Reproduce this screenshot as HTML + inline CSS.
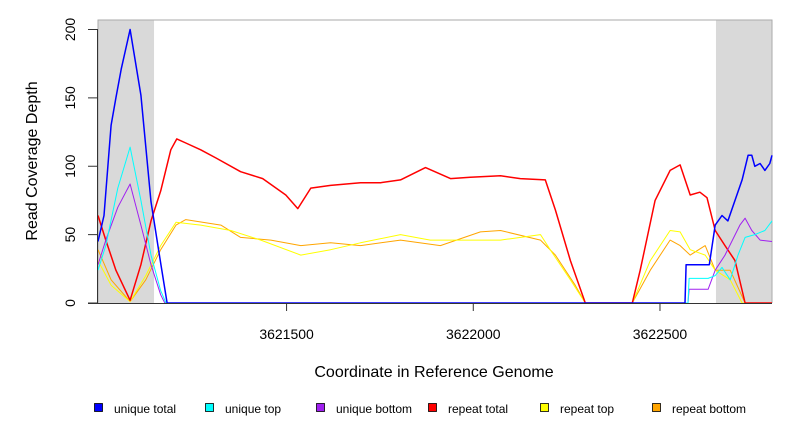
<!DOCTYPE html>
<html><head><meta charset="utf-8"><style>
body{margin:0;background:#fff;}
svg{display:block;font-family:"Liberation Sans",sans-serif;}
</style></head><body>
<svg id="chart" width="792" height="432" xmlns="http://www.w3.org/2000/svg"></svg>
<script>
const xTicks=[3621500,3622000,3622500];
const yTicks=[0,50,100,150,200];
const shadedRegions=[[3620995,3621145],[3622650,3622800]];
const seriesNames=["unique total","unique top","unique bottom","repeat total","repeat top","repeat bottom"];
const seriesColors=["#0000ff","#00ffff","#a020f0","#ff0000","#ffff00","#ffa500"];
const uniqueTotalX=[3620995,3621011,3621030,3621043,3621057,3621081,3621110,3621137,3621163,3621180,3622567,3622570,3622632,3622648,3622666,3622682,3622701,3622720,3622736,3622746,3622754,3622768,3622781,3622794,3622800];
const uniqueTotalY=[45,64,130,150,171,200,152,74,29,0,0,28,28,57,64,60,75,90,108,108,100,102,97,102,108];
const uniqueTopX=[3620995,3621016,3621048,3621081,3621110,3621137,3621163,3621177,3622575,3622578,3622629,3622648,3622666,3622688,3622709,3622728,3622754,3622781,3622800];
const uniqueTopY=[24,42,84,114,75,35,9,0,0,18,18,20,26,17,35,48,50,53,60];
const uniqueBottomX=[3620995,3621016,3621048,3621081,3621110,3621137,3621163,3621174,3622575,3622578,3622629,3622648,3622674,3622714,3622728,3622746,3622768,3622800];
const uniqueBottomY=[28,46,70,87,57,28,6,0,0,10,10,24,35,57,62,53,46,45];
const repeatTotalX=[3620995,3621016,3621043,3621081,3621110,3621137,3621163,3621190,3621206,3621230,3621270,3621311,3621377,3621436,3621498,3621530,3621565,3621618,3621698,3621752,3621805,3621872,3621939,3621992,3622073,3622126,3622193,3622220,3622260,3622300,3622426,3622447,3622487,3622527,3622554,3622581,3622607,3622626,3622648,3622674,3622701,3622728,3622800];
const repeatTotalY=[64,46,24,2,28,60,82,112,120,117,112,106,96,91,79,69,84,86,88,88,90,99,91,92,93,91,90,68,31,0,0,24,75,97,101,79,81,77,53,42,31,0,0];
const repeatTopX=[3620995,3621030,3621081,3621123,3621163,3621204,3621270,3621351,3621431,3621538,3621618,3621698,3621805,3621885,3621966,3622073,3622180,3622206,3622260,3622300,3622426,3622474,3622527,3622554,3622581,3622621,3622648,3622688,3622720,3622800];
const repeatTopY=[31,13,1,20,42,59,57,53,46,35,39,44,50,46,46,46,50,39,17,0,0,31,53,52,39,35,24,17,0,0];
const repeatBottomX=[3620995,3621030,3621081,3621123,3621163,3621204,3621230,3621324,3621377,3621458,3621538,3621618,3621698,3621805,3621912,3622019,3622073,3622180,3622220,3622273,3622300,3622426,3622474,3622527,3622554,3622581,3622621,3622648,3622688,3622728,3622800];
const repeatBottomY=[39,17,1,17,39,57,61,57,48,46,42,44,42,46,42,52,53,46,35,13,0,0,24,46,42,35,42,24,24,0,0];

const svg=document.getElementById('chart');
const NS="http://www.w3.org/2000/svg";
const X0=3620995,X1=3622800,PX0=98,PX1=772,PY0=303,PY1=29.5;
function sx(v){return PX0+(v-X0)/(X1-X0)*(PX1-PX0);}
function sy(v){return PY0+(v/200)*(PY1-PY0);}
function mk(tag,attrs,parent){const e=document.createElementNS(NS,tag);for(const k in attrs)e.setAttribute(k,attrs[k]);(parent||svg).appendChild(e);return e;}

shadedRegions.forEach(r=>{
  const e=mk('rect',{x:sx(r[0]),y:20,width:sx(r[1])-sx(r[0]),height:PY0-20,fill:'#d9d9d9'});
  
  
});
const border=mk('polyline',{points:`${PX0},${PY0} ${PX0},20 ${PX1},20 ${PX1},${PY0}`,fill:'none',stroke:'#aaa','stroke-width':1});



const xs=[uniqueTotalX,uniqueTopX,uniqueBottomX,repeatTotalX,repeatTopX,repeatBottomX];
const ys=[uniqueTotalY,uniqueTopY,uniqueBottomY,repeatTotalY,repeatTopY,repeatBottomY];
const widths=[1.5,1,1,1.5,1,1];
const order=[5,4,3,2,1,0];
order.forEach(i=>{
  const pts=xs[i].map((x,j)=>sx(x).toFixed(1)+','+sy(ys[i][j]).toFixed(1)).join(' ');
  const e=mk('polyline',{points:pts,fill:'none',stroke:seriesColors[i],'stroke-width':widths[i],'stroke-linejoin':'round'});
  
  
});

const xa=mk('line',{x1:88,y1:PY0+0.5,x2:PX1,y2:PY0+0.5,stroke:'#333','stroke-width':1});


const ya=mk('line',{x1:PX0-0.5,y1:PY0,x2:PX0-0.5,y2:PY1,stroke:'#333','stroke-width':1});



xTicks.forEach(t=>{
  const x=sx(t);
  mk('line',{x1:x,y1:PY0,x2:x,y2:PY0+8,stroke:'#333'});
  const tx=mk('text',{x:x,y:339,'text-anchor':'middle','font-size':14,fill:'#000'});
  tx.textContent=t;
  
  
});
yTicks.forEach(t=>{
  const y=sy(t);
  mk('line',{x1:88,y1:y,x2:PX0,y2:y,stroke:'#333'});
  const tx=mk('text',{x:0,y:0,'text-anchor':'middle','font-size':14,fill:'#000',transform:`translate(75,${y}) rotate(-90)`});
  tx.textContent=t;
  
  
});
const xt=mk('text',{x:434,y:377,'text-anchor':'middle','font-size':16,fill:'#000'});
xt.textContent='Coordinate in Reference Genome';


const yt=mk('text',{x:0,y:0,'text-anchor':'middle','font-size':16,fill:'#000',transform:'translate(37,161) rotate(-90)'});
yt.textContent='Read Coverage Depth';



const legX=[94,205,316,428,540,652];
seriesNames.forEach((n,i)=>{
  const g=mk('g',{});
  
  
  mk('rect',{x:legX[i]+0.5,y:403.5,width:8,height:8,fill:seriesColors[i],stroke:'#000','stroke-width':0.8},g);
  const t=mk('text',{x:legX[i]+20,y:413,'font-size':12,fill:'#000'},g);
  t.textContent=n;
});
</script>
</body></html>
